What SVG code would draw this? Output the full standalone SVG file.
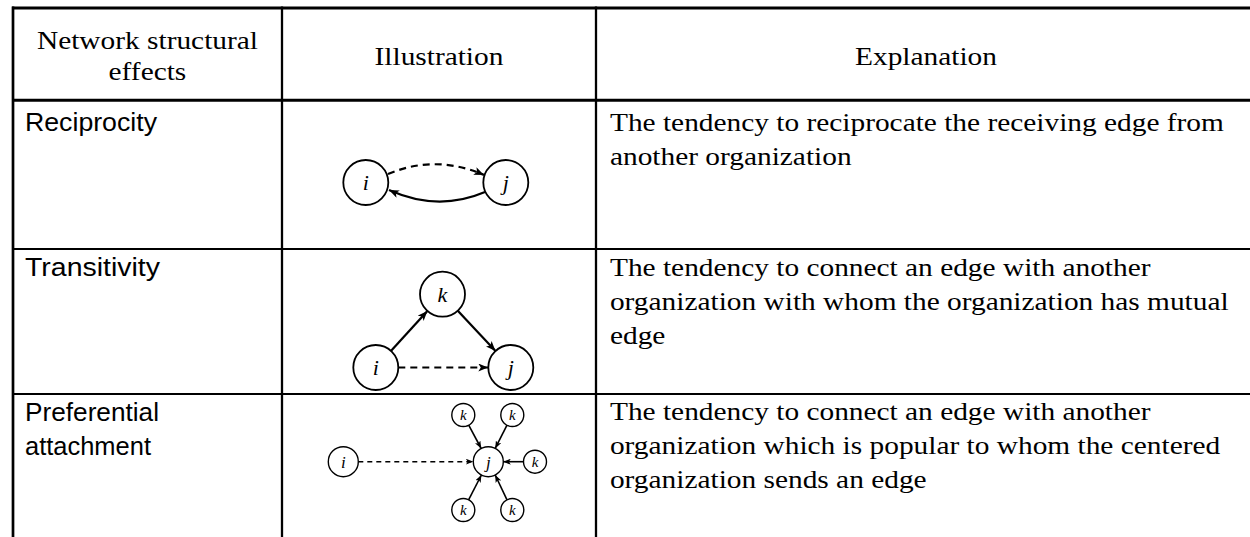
<svg xmlns="http://www.w3.org/2000/svg" width="1250" height="537" viewBox="0 0 1250 537">
<defs>
<style>
.grid{stroke:#000;fill:none}
.hdr{font-family:"Liberation Serif","Times New Roman",serif;font-size:25px;fill:#000}
.lbl{font-family:"Liberation Sans",Arial,sans-serif;font-size:26px;fill:#000}
.node{fill:#fff;stroke:#000}
.math{font-family:"Liberation Serif","Times New Roman",serif;font-style:italic;fill:#000;text-anchor:middle}
.edge{fill:none;stroke:#000}
</style>
<marker id="ah" markerUnits="userSpaceOnUse" viewBox="0 0 10 8" refX="10" refY="4" markerWidth="10" markerHeight="8" orient="auto">
<path d="M0,0 L10,4 L0,8 L2.5,4 z" fill="#000"/>
</marker>
<marker id="ahs" markerUnits="userSpaceOnUse" viewBox="0 0 10 8" refX="10" refY="4" markerWidth="7.5" markerHeight="6" orient="auto">
<path d="M0,0 L10,4 L0,8 L2.5,4 z" fill="#000"/>
</marker>
</defs>
<rect width="1250" height="537" fill="#fff"/>

<g id="table-grid" class="grid">
<line x1="12" y1="8" x2="1250" y2="8" stroke-width="3"/>
<line x1="12" y1="100.3" x2="1250" y2="100.3" stroke-width="3"/>
<line x1="12" y1="249" x2="1250" y2="249" stroke-width="2"/>
<line x1="12" y1="394" x2="1250" y2="394" stroke-width="2"/>
<line x1="13" y1="6.5" x2="13" y2="537" stroke-width="2.7"/>
<line x1="282" y1="6.5" x2="282" y2="537" stroke-width="2.3"/>
<line x1="596" y1="6.5" x2="596" y2="537" stroke-width="2.3"/>
</g>

<g id="header" transform="scale(1.175,1)">
<text class="hdr" x="125.5" y="49" text-anchor="middle">Network structural</text>
<text class="hdr" x="125.5" y="80" text-anchor="middle">effects</text>
<text class="hdr" x="373.6" y="65" text-anchor="middle">Illustration</text>
<text class="hdr" x="788.1" y="65" text-anchor="middle">Explanation</text>
</g>

<g id="labels">
<text class="lbl" x="25" y="131" textLength="132" lengthAdjust="spacingAndGlyphs">Reciprocity</text>
<text class="lbl" x="25" y="276" textLength="135" lengthAdjust="spacingAndGlyphs">Transitivity</text>
<text class="lbl" x="25" y="421" textLength="134" lengthAdjust="spacingAndGlyphs">Preferential</text>
<text class="lbl" x="25" y="455" textLength="126" lengthAdjust="spacingAndGlyphs">attachment</text>
</g>

<g id="explanations" transform="scale(1.175,1)">
<text class="hdr" x="519.1" y="131">The tendency to reciprocate the receiving edge from</text>
<text class="hdr" x="519.1" y="165">another organization</text>
<text class="hdr" x="519.1" y="276">The tendency to connect an edge with another</text>
<text class="hdr" x="519.1" y="310">organization with whom the organization has mutual</text>
<text class="hdr" x="519.1" y="344">edge</text>
<text class="hdr" x="519.1" y="420">The tendency to connect an edge with another</text>
<text class="hdr" x="519.1" y="454">organization which is popular to whom the centered</text>
<text class="hdr" x="519.1" y="488">organization sends an edge</text>
</g>

<g id="connectors">
<path class="edge" d="M388,174 Q436,154 484,175" stroke-width="2.2" stroke-dasharray="7,5" marker-end="url(#ah)"/>
<path class="edge" d="M485,192 Q438,212 389,190" stroke-width="2.2" marker-end="url(#ah)"/>
<line class="edge" x1="390.9" y1="350.9" x2="427.4" y2="310.9" stroke-width="2.2" marker-end="url(#ah)"/>
<line class="edge" x1="457.8" y1="310.7" x2="495.5" y2="351" stroke-width="2.2" marker-end="url(#ah)"/>
<line class="edge" x1="398.3" y1="367.5" x2="488.3" y2="367.5" stroke-width="2.2" stroke-dasharray="7,5" marker-end="url(#ah)"/>
<line class="edge" x1="358.3" y1="461.7" x2="473.3" y2="461.7" stroke-width="1.6" stroke-dasharray="5,4" marker-end="url(#ahs)"/>
<line class="edge" x1="468.7" y1="425.1" x2="481.2" y2="448.5" stroke-width="1.6" marker-end="url(#ahs)"/>
<line class="edge" x1="507" y1="425.2" x2="495.2" y2="448.4" stroke-width="1.6" marker-end="url(#ahs)"/>
<line class="edge" x1="523.5" y1="461.7" x2="503.3" y2="461.7" stroke-width="1.6" marker-end="url(#ahs)"/>
<line class="edge" x1="468.6" y1="499.8" x2="481.4" y2="475" stroke-width="1.6" marker-end="url(#ahs)"/>
<line class="edge" x1="507" y1="499.8" x2="495.2" y2="475" stroke-width="1.6" marker-end="url(#ahs)"/>
</g>

<g id="r1-i"><circle class="node" cx="365.8" cy="182.5" r="22.5" stroke-width="1.8"/><text class="math" x="365.8" y="190" font-size="22">i</text></g>
<g id="r1-j"><circle class="node" cx="505.8" cy="182.5" r="22.5" stroke-width="1.8"/><text class="math" x="505.8" y="190" font-size="22">j</text></g>

<g id="r2-k"><circle class="node" cx="442.5" cy="294.2" r="22.5" stroke-width="1.8"/><text class="math" x="442.5" y="301.7" font-size="22">k</text></g>
<g id="r2-i"><circle class="node" cx="375.8" cy="367.5" r="22.5" stroke-width="1.8"/><text class="math" x="375.8" y="375" font-size="22">i</text></g>
<g id="r2-j"><circle class="node" cx="510.8" cy="367.5" r="22.5" stroke-width="1.8"/><text class="math" x="510.8" y="375" font-size="22">j</text></g>

<g id="r3-i"><circle class="node" cx="343.3" cy="461.7" r="15" stroke-width="1.4"/><text class="math" x="343.3" y="467.5" font-size="17">i</text></g>
<g id="r3-j"><circle class="node" cx="488.3" cy="461.7" r="15" stroke-width="1.4"/><text class="math" x="488.3" y="467.5" font-size="17">j</text></g>
<g id="r3-k1"><circle class="node" cx="463.3" cy="415" r="11.5" stroke-width="1.4"/><text class="math" x="463.3" y="420" font-size="15">k</text></g>
<g id="r3-k2"><circle class="node" cx="512.3" cy="415" r="11.5" stroke-width="1.4"/><text class="math" x="512.3" y="420" font-size="15">k</text></g>
<g id="r3-k3"><circle class="node" cx="535" cy="461.7" r="11.5" stroke-width="1.4"/><text class="math" x="535" y="466.7" font-size="15">k</text></g>
<g id="r3-k4"><circle class="node" cx="463.3" cy="510" r="11.5" stroke-width="1.4"/><text class="math" x="463.3" y="515" font-size="15">k</text></g>
<g id="r3-k5"><circle class="node" cx="512.3" cy="510" r="11.5" stroke-width="1.4"/><text class="math" x="512.3" y="515" font-size="15">k</text></g>
</svg>
